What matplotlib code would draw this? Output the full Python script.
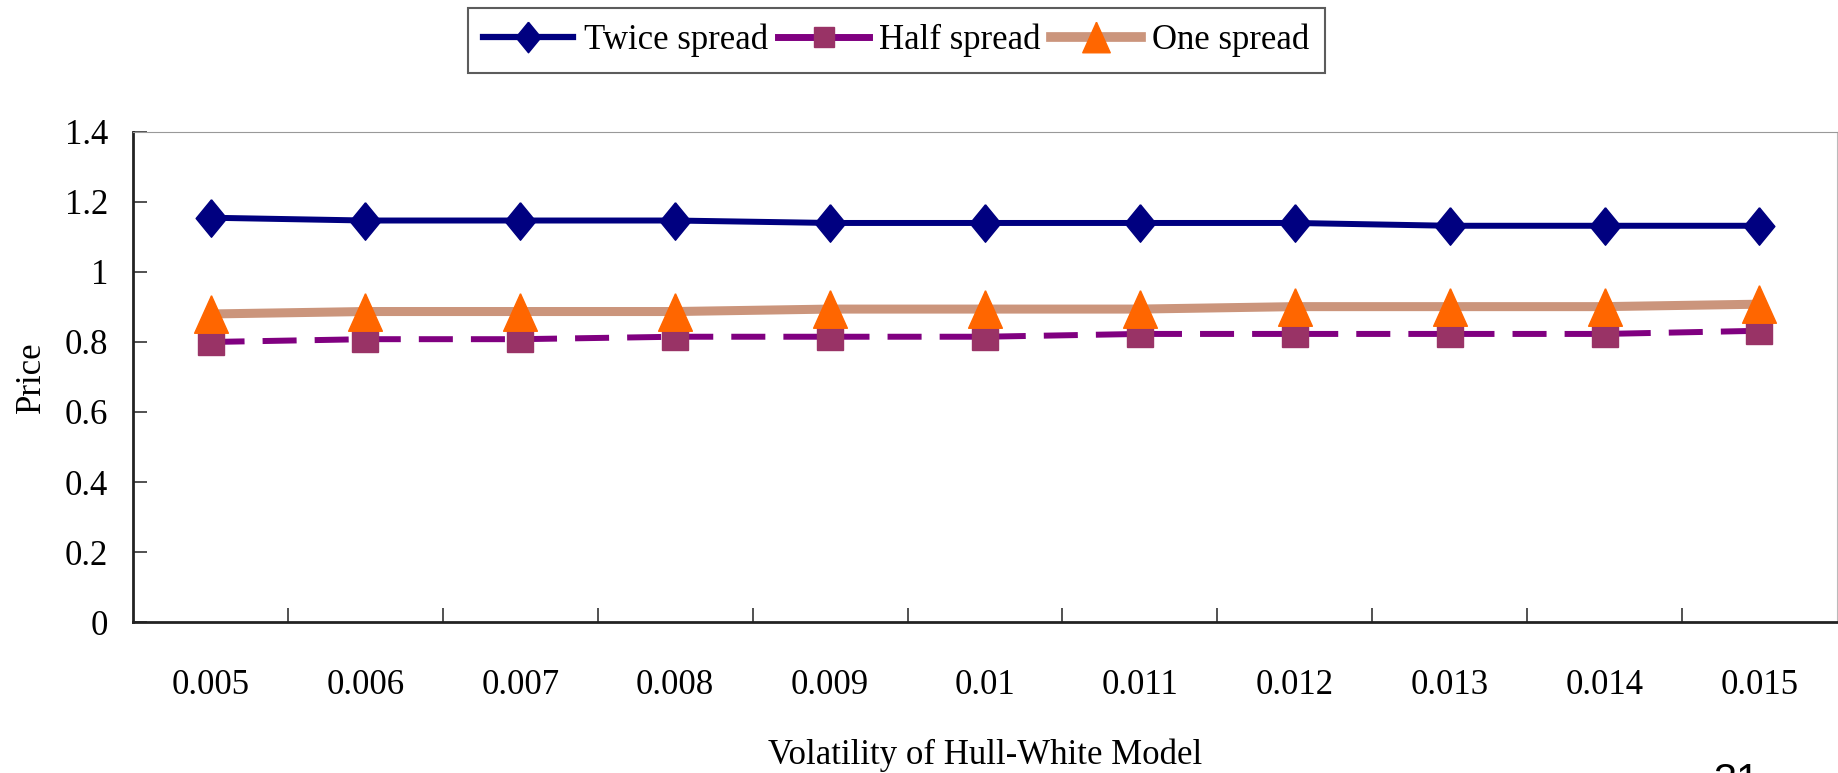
# Line chart: option price vs. Hull-White volatility for three spread settings
import matplotlib.pyplot as plt
from matplotlib.lines import Line2D

# Data
volatility = ['0.005', '0.006', '0.007', '0.008', '0.009', '0.01',
              '0.011', '0.012', '0.013', '0.014', '0.015']
twice_spread = [1.155, 1.147, 1.147, 1.147, 1.140, 1.140, 1.140, 1.140, 1.132, 1.132, 1.132]
half_spread = [0.800, 0.808, 0.808, 0.815, 0.815, 0.815, 0.823, 0.823, 0.823, 0.823, 0.832]
one_spread = [0.880, 0.887, 0.887, 0.887, 0.894, 0.894, 0.894, 0.901, 0.901, 0.901, 0.908]
y_ticks = [0, 0.2, 0.4, 0.6, 0.8, 1.0, 1.2, 1.4]
y_tick_labels = ['0', '0.2', '0.4', '0.6', '0.8', '1', '1.2', '1.4']

plt.rcParams['font.family'] = ['Liberation Serif', 'DejaVu Serif']
plt.rcParams['lines.scale_dashes'] = False
font_size = 25

# Marker shapes (slightly taller than wide, like the Excel markers)
diamond = [(0, 1), (0.82, 0), (0, -1), (-0.82, 0), (0, 1)]
triangle = [(0, 1), (0.9, -1), (-0.9, -1), (0, 1)]

fig = plt.figure(figsize=(18.38, 7.73), dpi=100)
ax = fig.add_axes([0.0724, 0.1953, 0.927, 0.634])

x = list(range(len(volatility)))

ax.plot(x, twice_spread, color='#000080', linewidth=4.3, marker=diamond,
        markersize=27, markerfacecolor='#000080', markeredgecolor='#000080',
        label='Twice spread')
ax.plot(x, half_spread, color='#800080', linewidth=4.3, dashes=(24.5, 13),
        marker='s', markersize=19, markerfacecolor='#993366',
        markeredgecolor='#993366', label='Half spread')
ax.plot(x, one_spread, color='#CB957C', linewidth=6.5, marker=triangle,
        markersize=27, markerfacecolor='#FF6600', markeredgecolor='#FF6600',
        label='One spread')

# Axis limits and ticks
ax.set_xlim(-0.5, len(volatility) - 0.5)
ax.set_ylim(0, 1.4)
ax.set_yticks(y_ticks)
ax.set_yticklabels(y_tick_labels, fontsize=font_size)
ax.set_xticks(x)
ax.set_xticklabels(volatility, fontsize=font_size)
ax.set_xticks([i + 0.5 for i in x[:-1]], minor=True)
ax.tick_params(axis='x', which='major', length=0, pad=34)
ax.tick_params(axis='x', which='minor', direction='in', length=10, width=1.2, color='#333333')
ax.tick_params(axis='y', direction='in', length=10, width=1.2, color='#333333', pad=18)

ax.spines['left'].set_color('#222222')
ax.spines['bottom'].set_color('#222222')
ax.spines['left'].set_linewidth(2)
ax.spines['bottom'].set_linewidth(2)
ax.spines['top'].set_color('#999999')
ax.spines['right'].set_color('#bbbbbb')

ax.set_xlabel('Volatility of Hull-White Model', fontsize=font_size, labelpad=26)
ax.set_ylabel('Price', fontsize=font_size, labelpad=12)

# Legend above the plot
handles = [
    Line2D([], [], color='#000080', linewidth=4.5, marker=diamond, markersize=22,
           markerfacecolor='#000080', markeredgecolor='#000080'),
    Line2D([], [], color='#800080', linewidth=5, marker='s', markersize=15,
           markerfacecolor='#993366', markeredgecolor='#993366'),
    Line2D([], [], color='#CB957C', linewidth=7, marker=triangle, markersize=22,
           markerfacecolor='#FF6600', markeredgecolor='#FF6600'),
]
leg = fig.legend(handles, ['Twice spread', 'Half spread', 'One spread'],
                 loc='center', bbox_to_anchor=(0.4875, 0.948), ncol=3,
                 fontsize=font_size, frameon=True, fancybox=False,
                 handlelength=2.6, handletextpad=0.3, columnspacing=0.3,
                 borderpad=0.45, borderaxespad=0.2)
leg.get_frame().set_edgecolor('#333333')
leg.get_frame().set_linewidth(1.5)

# Page number, cut off at the bottom edge as in the reference
fig.text(0.945, 0.014, '31', ha='center', va='top', fontsize=30,
         family=['Liberation Sans', 'DejaVu Sans'])

fig.savefig('out.png', dpi=100)
